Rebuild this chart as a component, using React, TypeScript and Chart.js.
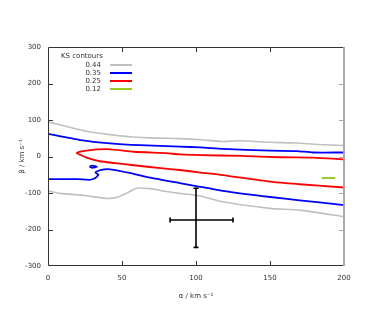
import React, { useEffect, useRef } from "react";
import { Chart, registerables } from "chart.js";

Chart.register(...registerables);

// ---- data ----
const xTicks = [0, 50, 100, 150, 200];
const yTicks = [-300, -200, -100, 0, 100, 200, 300];

const gray44UpperX = [0, 12, 26, 48, 69, 89, 103, 118, 130, 150, 168, 182, 200];
const gray44UpperY = [95, 83, 69, 57, 51, 49, 46, 41, 43, 39, 37, 33, 30];

const gray44LowerX = [0, 8, 25, 40, 48, 54, 60, 69, 80, 89, 103, 118, 150, 170, 200];
const gray44LowerY = [-94, -101, -107, -115, -110, -99, -87, -88, -96, -101, -108, -124, -142, -147, -165];

const blue35UpperX = [0, 22, 42, 62, 89, 103, 118, 150, 168, 179, 200];
const blue35UpperY = [62, 45, 36, 31, 27, 25, 21, 16, 15, 11, 11];

const blue35LowerX = [0, 20, 28, 32, 34, 32, 34, 38, 42, 55, 69, 89, 100, 118, 150, 170, 200];
const blue35LowerY = [-62, -62, -64, -59, -50, -44, -39, -35, -35, -45, -58, -73, -81, -94, -111, -120, -133];

const blue35BlobX = [28, 30, 33, 30, 28];
const blue35BlobY = [-28, -25, -28, -31, -28];

const red25X = [200, 179, 157, 130, 103, 89, 80, 58, 40, 26, 19.5, 22, 26, 35, 45, 58, 76, 89, 103, 118, 150, 170, 200];
const red25Y = [-8, -3, -2, 1.5, 4, 6, 9, 13, 20, 16, 10, 4, -3, -13, -18, -24, -32, -37, -44, -51, -69, -76, -85];

const green12X = [185, 194];
const green12Y = [-59, -59];

// error bar: centre and extents
const errX = 100;
const errY = -174;
const errXLow = 82.5;
const errXHigh = 125;
const errYLow = -249;
const errYHigh = -87;

const legendTitle = "KS contours";
const legendLabels = ["0.44", "0.35", "0.25", "0.12"];
const legendColors = ["#c0c0c0", "#0000ff", "#ff0000", "#99cc22"];

const FONT = "DejaVu Sans";

function pts(xs: number[], ys: number[]) {
  return xs.map((x, i) => ({ x, y: ys[i] }));
}

const decorPlugin = {
  id: "decor",
  afterDatasetsDraw(chart: any) {
    const ctx = chart.ctx as CanvasRenderingContext2D;
    const xs = chart.scales.x;
    const ys = chart.scales.y;
    const { left, right, top, bottom } = chart.chartArea;
    ctx.save();

    // error bars
    ctx.strokeStyle = "#000";
    ctx.lineWidth = 1.6;
    const cx = xs.getPixelForValue(errX);
    const cy = ys.getPixelForValue(errY);
    const xl = xs.getPixelForValue(errXLow);
    const xh = xs.getPixelForValue(errXHigh);
    const yl = ys.getPixelForValue(errYLow);
    const yh = ys.getPixelForValue(errYHigh);
    const cap = 2.5;
    ctx.beginPath();
    ctx.moveTo(cx, yh); ctx.lineTo(cx, yl);
    ctx.moveTo(xl, cy); ctx.lineTo(xh, cy);
    ctx.moveTo(cx - cap, yh); ctx.lineTo(cx + cap, yh);
    ctx.moveTo(cx - cap, yl); ctx.lineTo(cx + cap, yl);
    ctx.moveTo(xl, cy - cap); ctx.lineTo(xl, cy + cap);
    ctx.moveTo(xh, cy - cap); ctx.lineTo(xh, cy + cap);
    ctx.stroke();

    // frame and inward ticks
    const tl = 5;
    ctx.lineWidth = 1;
    ctx.strokeStyle = "#333";
    ctx.beginPath();
    ctx.moveTo(right, top + 0.5); ctx.lineTo(left + 0.5, top + 0.5);
    ctx.lineTo(left + 0.5, bottom - 0.5); ctx.lineTo(right, bottom - 0.5);
    xTicks.forEach((t) => {
      if (t === xTicks[0] || t === xTicks[xTicks.length - 1]) return;
      const px = Math.round(xs.getPixelForValue(t)) + 0.5;
      ctx.moveTo(px, bottom); ctx.lineTo(px, bottom - tl);
      ctx.moveTo(px, top); ctx.lineTo(px, top + tl);
    });
    yTicks.forEach((t) => {
      if (t === yTicks[0] || t === yTicks[yTicks.length - 1]) return;
      const py = Math.round(ys.getPixelForValue(t)) + 0.5;
      ctx.moveTo(left, py); ctx.lineTo(left + tl, py);
    });
    ctx.stroke();
    ctx.strokeStyle = "#aaaaaa";
    ctx.beginPath();
    yTicks.forEach((t) => {
      if (t === yTicks[0] || t === yTicks[yTicks.length - 1]) return;
      const py = Math.round(ys.getPixelForValue(t)) + 0.5;
      ctx.moveTo(right, py); ctx.lineTo(right - tl, py);
    });
    ctx.stroke();
    ctx.lineWidth = 2;
    ctx.beginPath();
    ctx.moveTo(right, top); ctx.lineTo(right, bottom);
    ctx.stroke();

    // legend
    ctx.font = `7px "${FONT}"`;
    ctx.fillStyle = "#333";
    ctx.textBaseline = "middle";
    ctx.textAlign = "left";
    ctx.fillText(legendTitle, left + 13, top + 9);
    ctx.textAlign = "right";
    legendLabels.forEach((lab, i) => {
      const y = top + 18 + i * 8;
      ctx.fillStyle = "#333";
      ctx.fillText(lab, left + 53, y);
      ctx.strokeStyle = legendColors[i];
      ctx.lineWidth = 2;
      ctx.beginPath();
      ctx.moveTo(left + 62, y);
      ctx.lineTo(left + 84, y);
      ctx.stroke();
    });
    ctx.restore();
  },
};

export default function App() {
  const ref = useRef<HTMLCanvasElement | null>(null);
  useEffect(() => {
    if (!ref.current) return;
    const line = (xs: number[], ys: number[], color: string, w: number) => ({
      data: pts(xs, ys),
      showLine: true,
      borderColor: color,
      backgroundColor: color,
      borderWidth: w,
      pointRadius: 0,
      tension: 0.2,
      fill: false,
    });
    const chart = new Chart(ref.current, {
      type: "scatter",
      data: {
        datasets: [
          line(gray44UpperX, gray44UpperY, legendColors[0], 1.6),
          line(gray44LowerX, gray44LowerY, legendColors[0], 1.6),
          line(blue35UpperX, blue35UpperY, legendColors[1], 1.8),
          line(blue35LowerX, blue35LowerY, legendColors[1], 1.8),
          line(blue35BlobX, blue35BlobY, legendColors[1], 1.8),
          line(red25X, red25Y, legendColors[2], 1.8),
          line(green12X, green12Y, legendColors[3], 2),
        ] as any,
      },
      options: {
        animation: false,
        responsive: false,
        devicePixelRatio: 1,
        layout: { padding: { top: 47, right: 46, left: 0, bottom: 0 } },
        plugins: { legend: { display: false }, tooltip: { enabled: false } },
        scales: {
          x: {
            type: "linear",
            min: 0,
            max: 200,
            afterBuildTicks: (s: any) => {
              s.ticks = xTicks.map((v) => ({ value: v }));
            },
            afterFit: (s: any) => {
              s.height = 46;
            },
            grid: { display: false, drawTicks: false },
            border: { display: false },
            ticks: { padding: 8, color: "#333", font: { family: FONT, size: 7 }, maxRotation: 0 },
            title: {
              display: true,
              text: "α / km s⁻¹",
              color: "#333",
              font: { family: FONT, size: 7 },
              padding: { top: 6, bottom: 12 },
            },
          },
          y: {
            type: "linear",
            min: -300,
            max: 300,
            afterBuildTicks: (s: any) => {
              s.ticks = yTicks.map((v) => ({ value: v }));
            },
            afterFit: (s: any) => {
              s.width = 48;
            },
            grid: { display: false, drawTicks: false },
            border: { display: false },
            ticks: { padding: 7, color: "#333", font: { family: FONT, size: 7 } },
            title: {
              display: true,
              text: "β / km s⁻¹",
              color: "#333",
              font: { family: FONT, size: 7 },
              padding: { top: 18, bottom: 0 },
            },
          },
        },
      },
      plugins: [decorPlugin],
    } as any);
    return () => chart.destroy();
  }, []);
  return (
    <div style={{ position: "fixed", left: 0, top: 0, width: 390, height: 312, background: "#fff" }}>
      <canvas ref={ref} width={390} height={312} style={{ width: 390, height: 312 }} />
    </div>
  );
}
